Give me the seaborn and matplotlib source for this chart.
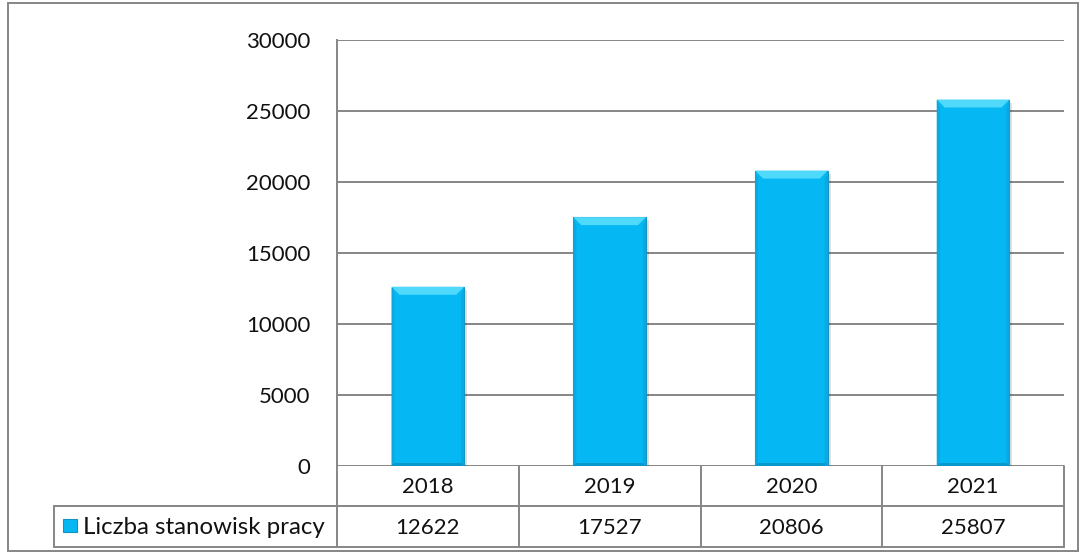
import matplotlib
matplotlib.use("Agg")
import matplotlib.pyplot as plt
import seaborn as sns
import pandas as pd
from matplotlib.patches import Rectangle, Polygon
from matplotlib.lines import Line2D

years = ["2018", "2019", "2020", "2021"]
values = [12622, 17527, 20806, 25807]
series_name = "Liczba stanowisk pracy"
yticks = [0, 5000, 10000, 15000, 20000, 25000, 30000]

sns.set_theme(style="white")
plt.rcParams['font.family'] = ['Lato', 'DejaVu Sans']

W, H = 1081, 553
FS = 16
fig = plt.figure(figsize=(W / 100, H / 100), dpi=100)
fig.patch.set_facecolor("white")

def fx(px):
    return px / W

def fy(py):
    return 1 - py / H

left, right, top, bottom = 337, 1064, 40, 466
ax = fig.add_axes([fx(left), fy(bottom), fx(right - left), (bottom - top) / H])

df = pd.DataFrame({"year": years, "value": values})
bar_color = "#05B8F3"
sns.barplot(data=df, x="year", y="value", color=bar_color, width=0.4,
            saturation=1, ax=ax, zorder=3, edgecolor="#1593C0", linewidth=0.8)

ax.set_ylim(0, 30000)
ax.set_xlim(-0.5, len(years) - 0.5)
ax.set_yticks(yticks)
ax.set_yticklabels([str(t) for t in yticks], fontsize=FS, color="#111111")
ax.tick_params(axis="y", length=0, pad=19)
ax.set_xticks([])
ax.set_xlabel("")
ax.set_ylabel("")
ax.yaxis.grid(True, color="#868686", linewidth=1.4, zorder=0)
for s in ["top", "right", "bottom"]:
    ax.spines[s].set_visible(False)
ax.spines["left"].set_color("#868686")
ax.spines["left"].set_linewidth(1.4)

# bevel on bars (derived from the bar patches)
px_x = 1.0 / ((right - left) / len(years))   # data units per pixel in x
px_y = 30000.0 / (bottom - top)              # data units per pixel in y
bx, by = 8 * px_x, 8 * px_y
sx, sy = 3 * px_x, 3 * px_y
for p in list(ax.patches):
    x0, w, h = p.get_x(), p.get_width(), p.get_height()
    x1 = x0 + w
    ax.add_patch(Rectangle((x0 + sx, -sy), w, h, facecolor="#000000",
                           alpha=0.12, edgecolor="none", zorder=2.5))
    ax.add_patch(Polygon([(x0, h), (x1, h), (x1 - bx, h - by), (x0 + bx, h - by)],
                         closed=True, facecolor="#4FD9FB", edgecolor="none", zorder=4))
    ax.add_patch(Polygon([(x0, 0), (x0 + sx, sy), (x0 + sx, h - by), (x0, h)],
                         closed=True, facecolor="#0AA9E0", edgecolor="none", zorder=4))
    ax.add_patch(Polygon([(x1, 0), (x1 - sx, sy), (x1 - sx, h - by), (x1, h)],
                         closed=True, facecolor="#0AA9E0", edgecolor="none", zorder=4))
    ax.add_patch(Polygon([(x0, 0), (x1, 0), (x1 - sx, sy), (x0 + sx, sy)],
                         closed=True, facecolor="#0898CC", edgecolor="none", zorder=4))

# Data table below the axes
gc = "#868686"
row1_top, row1_bot, row2_bot = 466, 506, 547
cat_w = (right - left) / len(years)
lines = []
for i in range(len(years) + 1):
    xx = left + i * cat_w
    lines.append(((xx, xx), (row1_top, row2_bot)))
lines.append(((54, right), (row1_bot, row1_bot)))
lines.append(((54, right), (row2_bot, row2_bot)))
lines.append(((54, 54), (row1_bot, row2_bot)))
for xs, ys in lines:
    fig.add_artist(Line2D([fx(x) for x in xs], [fy(y) for y in ys],
                          color=gc, linewidth=1.4))

for i, (yr, v) in enumerate(zip(years, values)):
    cx = left + (i + 0.5) * cat_w
    fig.text(fx(cx), fy((row1_top + row1_bot) / 2 + 1), yr, ha="center",
             va="center", fontsize=FS, color="#111111")
    fig.text(fx(cx), fy((row1_bot + row2_bot) / 2 + 1), str(v), ha="center",
             va="center", fontsize=FS, color="#111111")

fig.add_artist(Rectangle((fx(63), fy(532)), 14 / W, 13 / H,
                         facecolor=bar_color, edgecolor="#1593C0",
                         linewidth=0.8))
fig.text(fx(83), fy((row1_bot + row2_bot) / 2 + 1), series_name, ha="left",
         va="center", fontsize=17.3, color="#111111")

# outer frame
fig.add_artist(Rectangle((fx(8), fy(551)), (1078 - 8) / W, (551 - 3) / H,
                         fill=False, edgecolor=gc, linewidth=1.4))

fig.savefig("out.png", dpi=100)
